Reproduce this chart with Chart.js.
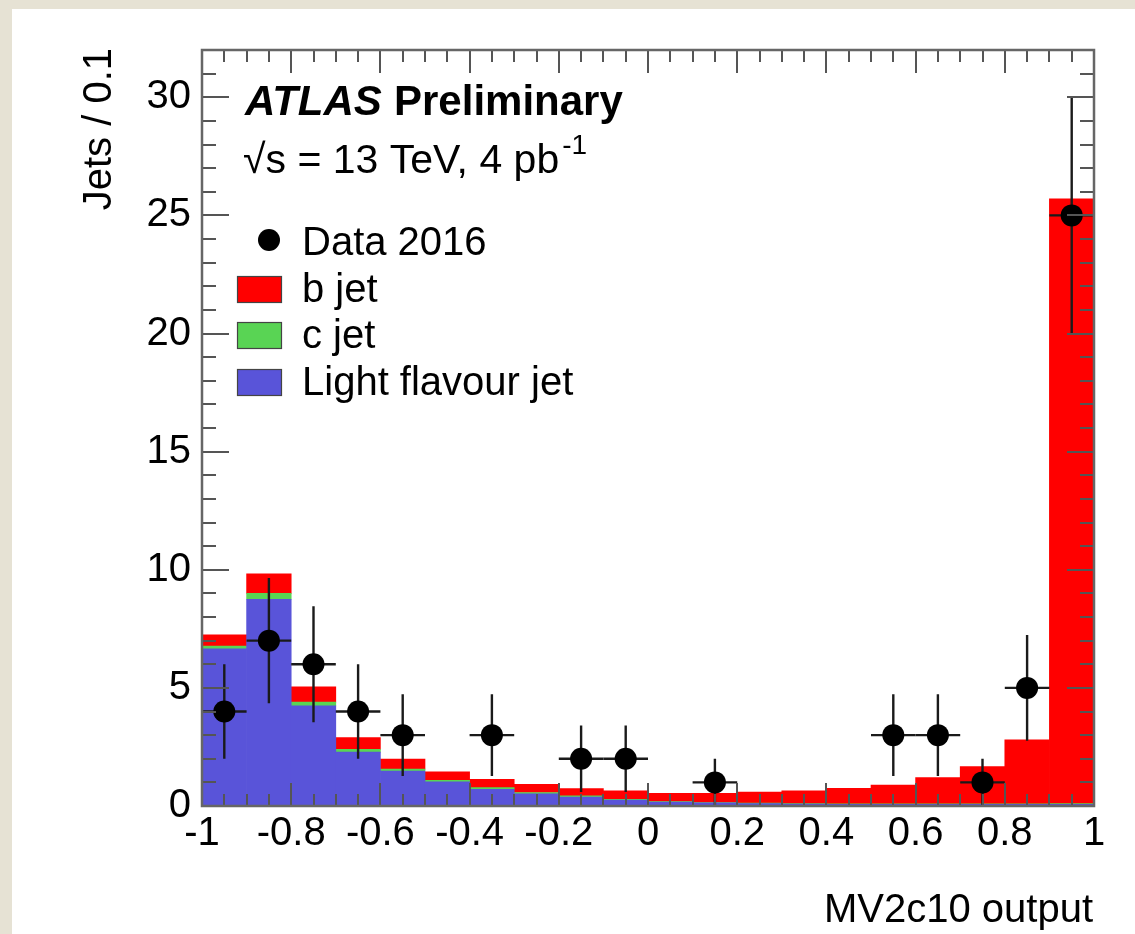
<!DOCTYPE html>
<html><head><meta charset="utf-8">
<script src="https://cdn.jsdelivr.net/npm/chart.js@4.4.1/dist/chart.umd.min.js"></script>
<style>html,body{margin:0;padding:0;background:#e6e2d4;overflow:hidden}canvas{display:block}</style>
</head><body>
<canvas id="c" width="1135" height="934"></canvas>
<script>
// ---- data ----
const binCenters = [-0.95,-0.85,-0.75,-0.65,-0.55,-0.45,-0.35,-0.25,-0.15,-0.05,0.05,0.15,0.25,0.35,0.45,0.55,0.65,0.75,0.85,0.95];
const lightJet = [6.65,8.75,4.24,2.28,1.48,1.02,0.71,0.51,0.38,0.25,0.17,0.13,0.10,0.08,0.07,0.07,0.07,0.07,0.07,0.07];
const cJet     = [0.12,0.25,0.16,0.12,0.08,0.07,0.07,0.06,0.05,0.03,0.02,0.02,0.02,0.02,0.02,0.02,0.02,0.02,0.02,0.03];
const bJet     = [0.48,0.83,0.64,0.50,0.43,0.36,0.35,0.35,0.31,0.36,0.35,0.39,0.47,0.54,0.66,0.80,1.11,1.58,2.71,25.6];
const dataX    = [-0.95,-0.85,-0.75,-0.65,-0.55,-0.35,-0.15,-0.05,0.15,0.55,0.65,0.75,0.85,0.95];
const dataY    = [4,7,6,4,3,3,2,2,1,3,3,1,5,25];
const dataErr  = [2.0,2.65,2.45,2.0,1.73,1.73,1.41,1.41,1.0,1.73,1.73,1.0,2.24,5.0];
const binHalfWidth = 0.05;
const xTickValues = [-1,-0.8,-0.6,-0.4,-0.2,0,0.2,0.4,0.6,0.8,1];
const xTickLabels = ['-1','-0.8','-0.6','-0.4','-0.2','0','0.2','0.4','0.6','0.8','1'];
const yTickValues = [0,5,10,15,20,25,30];
const yTickLabels = ['0','5','10','15','20','25','30'];
const legendLabels = ['Data 2016','b jet','c jet','Light flavour jet'];

const FONT = "'Liberation Sans', Arial, Helvetica, sans-serif";
const FS = 40;
const COL_B = '#ff0000', COL_C = '#59d454', COL_L = '#5954d9';

function lookup(vals, labs, v){
  const i = vals.findIndex(t => Math.abs(t - v) < 1e-6);
  return i >= 0 ? labs[i] : '';
}

const rootPlugin = {
  id: 'rootStyle',
  beforeDraw(chart){
    const ctx = chart.ctx;
    ctx.save();
    ctx.fillStyle = '#e6e2d4';
    ctx.fillRect(0,0,chart.width,chart.height);
    ctx.fillStyle = '#ffffff';
    ctx.fillRect(12,9,chart.width-12,chart.height-9);
    ctx.restore();
  },
  beforeDatasetDraw(chart, args){
    if (args.meta.type !== 'scatter') return;
    const ctx = chart.ctx, xs = chart.scales.x, ys = chart.scales.y;
    ctx.save();
    ctx.strokeStyle = '#1a1a1a';
    ctx.lineWidth = 2.4;
    for (let i = 0; i < dataX.length; i++){
      const px = xs.getPixelForValue(dataX[i]);
      const py = ys.getPixelForValue(dataY[i]);
      ctx.beginPath();
      ctx.moveTo(xs.getPixelForValue(dataX[i]-binHalfWidth), py);
      ctx.lineTo(xs.getPixelForValue(dataX[i]+binHalfWidth), py);
      ctx.moveTo(px, ys.getPixelForValue(dataY[i]-dataErr[i]));
      ctx.lineTo(px, ys.getPixelForValue(dataY[i]+dataErr[i]));
      ctx.stroke();
    }
    ctx.restore();
  },
  afterDraw(chart){
    const ctx = chart.ctx, xs = chart.scales.x, ys = chart.scales.y;
    const a = chart.chartArea;
    ctx.save();
    // ticks
    ctx.strokeStyle = '#555';
    ctx.lineWidth = 2;
    ctx.beginPath();
    for (let k = 0; k <= 40; k++){
      const v = -1 + k*0.05;
      const px = Math.round(xs.getPixelForValue(v));
      const major = (k % 4 === 0);
      const L = major ? 23 : 12;
      ctx.moveTo(px, a.bottom); ctx.lineTo(px, a.bottom - L);
      ctx.moveTo(px, a.top); ctx.lineTo(px, a.top + L);
    }
    for (let k = 0; k <= 32; k++){
      const py = Math.round(ys.getPixelForValue(k));
      const major = (k % 5 === 0);
      const L = major ? 27 : 14;
      ctx.moveTo(a.left, py); ctx.lineTo(a.left + L, py);
      ctx.moveTo(a.right, py); ctx.lineTo(a.right - L, py);
    }
    ctx.stroke();
    // frame
    ctx.strokeStyle = '#666';
    ctx.lineWidth = 2.5;
    ctx.strokeRect(a.left, a.top, a.right - a.left, a.bottom - a.top);

    // texts
    ctx.fillStyle = '#000';
    ctx.textBaseline = 'alphabetic';
    ctx.textAlign = 'left';
    ctx.font = `italic bold ${FS+2}px ${FONT}`;
    ctx.fillText('ATLAS', 245, 115);
    ctx.font = `bold ${FS+2}px ${FONT}`;
    ctx.fillText('Preliminary', 394, 115);
    ctx.font = `${FS+1}px ${FONT}`;
    const s1 = '\u221As = 13 TeV, 4 pb';
    ctx.fillText(s1, 243, 173);
    const w1 = ctx.measureText(s1).width;
    ctx.font = `${Math.round(FS*0.7)}px ${FONT}`;
    ctx.fillText('-1', 243 + w1 + 3, 154);

    // legend
    ctx.font = `${FS}px ${FONT}`;
    ctx.beginPath();
    ctx.arc(269, 240, 11, 0, Math.PI*2);
    ctx.fill();
    ctx.fillText(legendLabels[0], 302, 255);
    const boxes = [[COL_B, 276], [COL_C, 322], [COL_L, 369]];
    const base = [302, 348, 395];
    for (let i = 0; i < 3; i++){
      ctx.fillStyle = boxes[i][0];
      ctx.fillRect(237, boxes[i][1], 45, 27);
      ctx.strokeStyle = '#444';
      ctx.lineWidth = 1.2;
      ctx.strokeRect(237.5, boxes[i][1]+0.5, 44, 26);
      ctx.fillStyle = '#000';
      ctx.fillText(legendLabels[i+1], 302, base[i]);
    }

    // axis titles
    ctx.font = `${FS}px ${FONT}`;
    ctx.textAlign = 'right';
    ctx.fillText('MV2c10 output', 1093, 922);
    ctx.save();
    ctx.translate(111, 48);
    ctx.rotate(-Math.PI/2);
    ctx.textAlign = 'right';
    ctx.fillText('Jets / 0.1', 0, 0);
    ctx.restore();
    ctx.restore();
  }
};

const ctx = document.getElementById('c').getContext('2d');
new Chart(ctx, {
  type: 'bar',
  data: {
    datasets: [
      { type: 'scatter', label: legendLabels[0], data: dataX.map((x,i)=>({x:x, y:dataY[i]})),
        backgroundColor: '#000', borderColor: '#000', pointRadius: 11, pointHoverRadius: 11, borderWidth: 0, order: 0 },
      { label: legendLabels[3], data: binCenters.map((x,i)=>({x:x, y:lightJet[i]})), backgroundColor: COL_L, order: 1 },
      { label: legendLabels[2], data: binCenters.map((x,i)=>({x:x, y:cJet[i]})), backgroundColor: COL_C, order: 1 },
      { label: legendLabels[1], data: binCenters.map((x,i)=>({x:x, y:bJet[i]})), backgroundColor: COL_B, order: 1 }
    ]
  },
  options: {
    responsive: false,
    animation: false,
    devicePixelRatio: 1,
    layout: { padding: { left: 0, right: 41, top: 50, bottom: 0 } },
    datasets: { bar: { barPercentage: 1, categoryPercentage: 1, grouped: false, borderWidth: 0 } },
    plugins: { legend: { display: false }, tooltip: { enabled: false } },
    scales: {
      x: {
        type: 'linear', min: -1, max: 1, offset: false,
        grid: { display: false, drawTicks: false }, border: { display: false },
        ticks: { stepSize: 0.2, autoSkip: false, maxRotation: 0, minRotation: 0, padding: 4, color: '#000',
                 font: { family: FONT, size: FS }, callback: v => lookup(xTickValues, xTickLabels, v) },
        afterFit(s){ s.height = 128; }
      },
      y: {
        type: 'linear', stacked: true, min: 0, max: 32,
        grid: { display: false, drawTicks: false }, border: { display: false },
        ticks: { stepSize: 5, autoSkip: false, padding: 11, color: '#000',
                 font: { family: FONT, size: FS }, callback: v => lookup(yTickValues, yTickLabels, v) },
        afterFit(s){ s.width = 202; }
      }
    }
  },
  plugins: [rootPlugin]
});
</script>
</body></html>
